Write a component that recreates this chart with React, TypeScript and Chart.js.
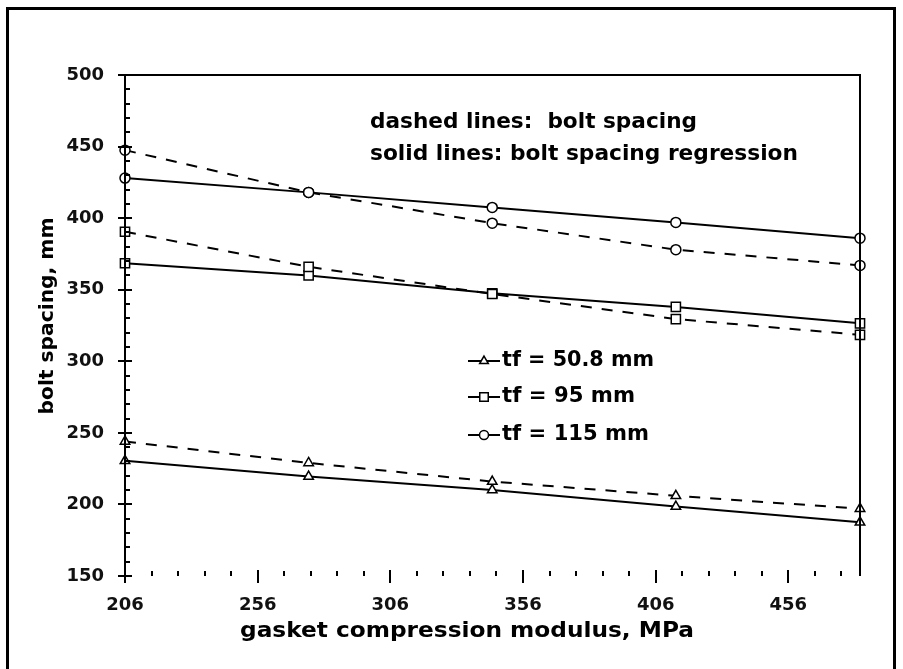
import { useEffect, useRef } from "react";
import { Chart, registerables } from "chart.js";
import { drawPoint } from "chart.js/helpers";

Chart.register(...registerables);

// ---- data ----
const modulus = [206, 275.2, 344.4, 413.6, 483];
const spacing508 = [244, 229, 216, 206, 197];
const regression508 = [230.5, 219.5, 210, 198.5, 187.5];
const spacing95 = [390.5, 366, 347, 329.5, 318.5];
const regression95 = [368.5, 360, 347.5, 338, 326.5];
const spacing115 = [447.5, 418, 396.5, 378, 367];
const regression115 = [428, 418, 407.5, 397, 386];

const xTicks = [206, 256, 306, 356, 406, 456];
const yTicks = [150, 200, 250, 300, 350, 400, 450, 500];
const legendLabels = ["tf = 50.8 mm", "tf = 95 mm", "tf = 115 mm"];
const legendStyles = ["triangle", "rect", "circle"];
const noteLines = ["dashed lines:  bolt spacing", "solid lines: bolt spacing regression"];
const xTitle = "gasket compression modulus, MPa";
const yTitle = "bolt spacing, mm";

const FONT = "DejaVu Sans";
const markerRadius: Record<string, number> = { triangle: 5.5, rect: 6.5, circle: 5 };

function pts(vals: number[]) {
  return vals.map((v, i) => ({ x: modulus[i], y: v }));
}

function ds(vals: number[], style: string, dashed: boolean) {
  return {
    data: pts(vals),
    borderColor: "#000",
    borderWidth: 2,
    borderDash: dashed ? [11, 10] : [],
    pointStyle: style,
    pointRadius: markerRadius[style],
    pointBackgroundColor: "#fff",
    pointBorderColor: "#000",
    pointBorderWidth: 1.5,
    tension: 0,
    clip: false,
    fill: false,
  };
}

function fitText(
  ctx: CanvasRenderingContext2D,
  text: string,
  x: number,
  y: number,
  w: number,
  size: number,
  rot = 0,
  center = false
) {
  ctx.save();
  ctx.font = `bold ${size}px "${FONT}"`;
  ctx.fillStyle = "#000";
  ctx.textBaseline = "middle";
  ctx.textAlign = "left";
  const m = ctx.measureText(text).width;
  ctx.translate(x, y);
  if (rot) ctx.rotate(rot);
  ctx.scale(w / m, 1);
  ctx.fillText(text, center ? -m / 2 : 0, 0);
  ctx.restore();
}

const decor = {
  id: "decor",
  afterDraw(chart: any) {
    const { ctx, chartArea: a, scales } = chart;
    const xs = scales.x;
    const ys = scales.y;
    ctx.save();
    ctx.strokeStyle = "#000";
    // outer frame
    ctx.lineWidth = 3;
    ctx.beginPath();
    ctx.moveTo(7.5, 669);
    ctx.lineTo(7.5, 8.5);
    ctx.lineTo(894.5, 8.5);
    ctx.lineTo(894.5, 669);
    ctx.stroke();
    // axis lines (left, top, right)
    ctx.lineWidth = 2;
    ctx.beginPath();
    ctx.moveTo(a.left, a.bottom);
    ctx.lineTo(a.left, a.top);
    ctx.lineTo(a.right, a.top);
    ctx.lineTo(a.right, a.bottom);
    ctx.stroke();
    // major ticks
    ctx.beginPath();
    for (const v of xTicks) {
      const px = Math.round(xs.getPixelForValue(v));
      ctx.moveTo(px, a.bottom - 6);
      ctx.lineTo(px, a.bottom + 7);
    }
    for (const v of yTicks) {
      const py = Math.round(ys.getPixelForValue(v));
      ctx.moveTo(a.left - 7, py);
      ctx.lineTo(a.left + 7, py);
    }
    ctx.stroke();
    // minor ticks
    ctx.beginPath();
    for (let v = xTicks[0] + 10; v < xs.max; v += 10) {
      if ((v - xTicks[0]) % 50 === 0) continue;
      const px = Math.round(xs.getPixelForValue(v));
      ctx.moveTo(px, a.bottom - 5);
      ctx.lineTo(px, a.bottom);
    }
    for (let v = yTicks[0] + 10; v < ys.max; v += 10) {
      if ((v - yTicks[0]) % 50 === 0) continue;
      const py = Math.round(ys.getPixelForValue(v));
      ctx.moveTo(a.left, py);
      ctx.lineTo(a.left + 5, py);
    }
    ctx.stroke();
    ctx.restore();

    // titles & notes
    fitText(ctx, xTitle, 240, 632, 454, 21);
    fitText(ctx, yTitle, 47.5, 316, 197, 20, -Math.PI / 2, true);
    fitText(ctx, noteLines[0], 370, 123, 327, 21);
    fitText(ctx, noteLines[1], 370, 155, 428, 21);

    // legend
    const rowsY = [361, 397, 435];
    const widths = [152, 133, 147];
    legendLabels.forEach((lab, i) => {
      const yy = rowsY[i];
      ctx.save();
      ctx.strokeStyle = "#000";
      ctx.lineWidth = 2;
      ctx.beginPath();
      ctx.moveTo(468, yy);
      ctx.lineTo(500, yy);
      ctx.stroke();
      ctx.fillStyle = "#fff";
      ctx.lineWidth = 1.5;
      drawPoint(
        ctx,
        { pointStyle: legendStyles[i] as any, radius: markerRadius[legendStyles[i]] - 0.5, borderWidth: 1.5, rotation: 0 },
        484,
        yy
      );
      ctx.restore();
      fitText(ctx, lab, 502, yy, widths[i], 21);
    });
  },
};

export default function App() {
  const ref = useRef<HTMLCanvasElement>(null);
  useEffect(() => {
    if (!ref.current) return;
    const chart = new Chart(ref.current, {
      type: "line",
      data: {
        datasets: [
          ds(spacing508, "triangle", true),
          ds(regression508, "triangle", false),
          ds(spacing95, "rect", true),
          ds(regression95, "rect", false),
          ds(spacing115, "circle", true),
          ds(regression115, "circle", false),
        ] as any,
      },
      options: {
        responsive: false,
        animation: false,
        events: [],
        layout: { padding: { left: 0, top: 75, right: 43, bottom: 0 } },
        plugins: { legend: { display: false }, tooltip: { enabled: false }, title: { display: false } },
        scales: {
          x: {
            type: "linear",
            min: 206,
            max: 483,
            grid: { display: false, drawTicks: false },
            border: { display: false },
            afterBuildTicks: (s: any) => {
              s.ticks = xTicks.map((v) => ({ value: v }));
            },
            afterFit: (s: any) => {
              s.height = 93;
            },
            ticks: {
              padding: 19,
              maxRotation: 0,
              autoSkip: false,
              color: "#111",
              font: { family: FONT, weight: "bold", size: 18 },
              callback: (v: any) => String(v),
            },
          },
          y: {
            type: "linear",
            min: 150,
            max: 500,
            grid: { display: false, drawTicks: false },
            border: { display: false },
            afterBuildTicks: (s: any) => {
              s.ticks = yTicks.map((v) => ({ value: v }));
            },
            afterFit: (s: any) => {
              s.width = 125;
            },
            ticks: {
              padding: 21,
              autoSkip: false,
              color: "#111",
              font: { family: FONT, weight: "bold", size: 18 },
              callback: (v: any) => String(v),
            },
          },
        },
      },
      plugins: [decor],
    });
    return () => chart.destroy();
  }, []);
  return (
    <div style={{ position: "absolute", left: 0, top: 0, width: 903, height: 669, background: "#fff" }}>
      <canvas ref={ref} width={903} height={669} style={{ display: "block", width: 903, height: 669 }} />
    </div>
  );
}
